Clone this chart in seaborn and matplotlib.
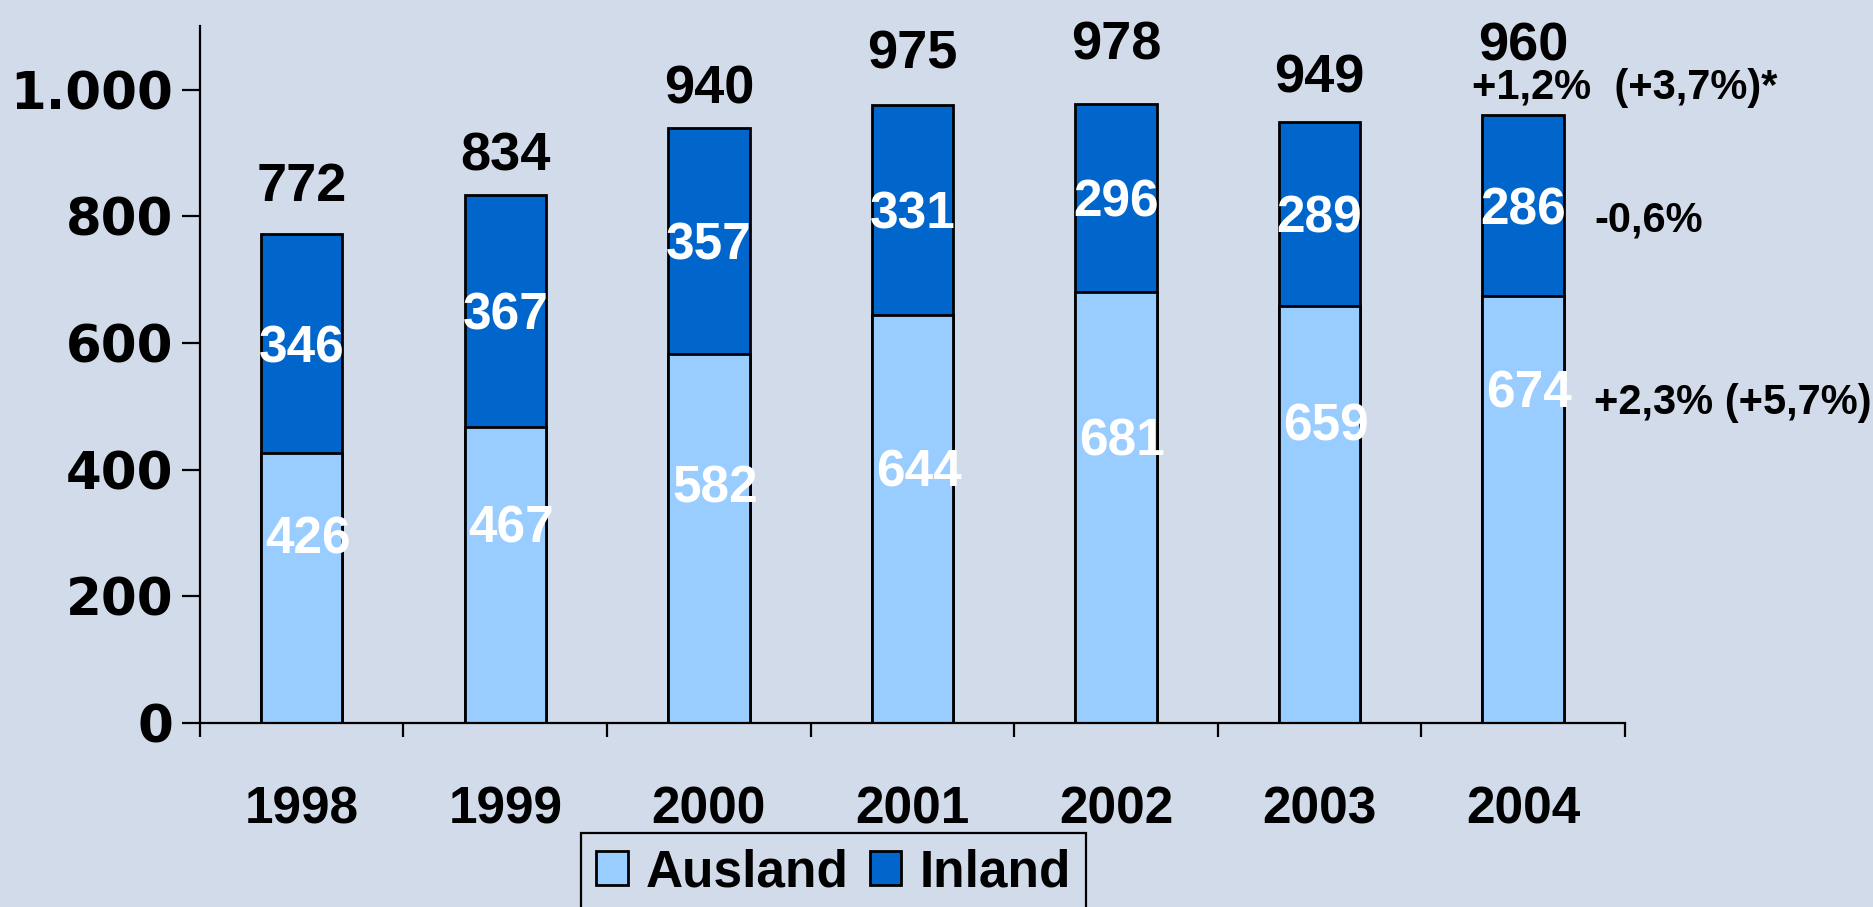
import numpy as np
import pandas as pd
import seaborn as sns
import matplotlib.pyplot as plt
from matplotlib.patches import Patch

# Data
years = ['1998', '1999', '2000', '2001', '2002', '2003', '2004']
ausland = [426, 467, 582, 644, 681, 659, 674]
inland = [346, 367, 357, 331, 296, 289, 286]
totals = [772, 834, 940, 975, 978, 949, 960]

# label placement as in the original slide (Ausland labels are not centred)
ausland_label_y = [289, 306, 369, 395, 444, 467, 520]
total_label_gap = [74, 60, 60, 81, 91, 69, 108]

bg = '#D2DBE9'
col_ausland = '#99CCFF'
col_inland = '#0066CC'

df = pd.DataFrame({'year': years, 'Ausland': ausland, 'Inland': inland, 'total': totals})

plt.rcParams['font.family'] = ['Liberation Sans', 'DejaVu Sans']
plt.rcParams['font.weight'] = 'bold'

fig = plt.figure(figsize=(18.74, 9.07), dpi=100, facecolor=bg)
ax = fig.add_axes([0.1067, 0.203, 0.867 - 0.1067, 0.971 - 0.203])
ax.set_facecolor(bg)

# stacked bars: full total in dark blue, Ausland part drawn over it
sns.barplot(data=df, x='year', y='total', color=col_inland, width=0.4, saturation=1,
            edgecolor='black', linewidth=2, errorbar=None, ax=ax)
sns.barplot(data=df, x='year', y='Ausland', color=col_ausland, width=0.4, saturation=1,
            edgecolor='black', linewidth=2, errorbar=None, ax=ax)

ax.set_xlim(-0.5, 6.5)
ax.set_ylim(0, 1100)
ax.set_xlabel('')
ax.set_ylabel('')

for s in ['top', 'right']:
    ax.spines[s].set_visible(False)
for s in ['left', 'bottom']:
    ax.spines[s].set_linewidth(1.6)
    ax.spines[s].set_color('black')

ax.set_yticks(range(0, 1001, 200))
ax.set_yticklabels([f'{v:,}'.replace(',', '.') for v in range(0, 1001, 200)],
                   fontfamily='DejaVu Sans', fontweight='bold', fontsize=37)
ax.tick_params(axis='y', length=13, width=1.6, pad=6)

ax.set_xticks(range(len(years)))
ax.set_xticklabels(years, fontfamily=['Liberation Sans Narrow', 'Liberation Sans'],
                   fontweight='bold', fontsize=37)
ax.tick_params(axis='x', which='major', length=0, pad=45)
ax.set_xticks(np.arange(-0.5, len(years), 1), minor=True)
ax.tick_params(axis='x', which='minor', length=10, width=1.6)

# value labels
for i in range(len(years)):
    ax.text(i, totals[i] + total_label_gap[i], str(totals[i]), ha='center', va='center',
            fontsize=39, fontweight='bold', color='black')
    ax.text(i, (ausland[i] + totals[i]) / 2 - 8, str(inland[i]), ha='center', va='center',
            fontsize=37, fontweight='bold', color='white')
    ax.text(i + 0.03, ausland_label_y[i], str(ausland[i]), ha='center', va='center',
            fontsize=37, fontweight='bold', color='white')

# growth notes for 2004
ax.text(6.5, 1003, '+1,2%  (+3,7%)*', ha='center', va='center', fontsize=30,
        fontweight='bold', clip_on=False)
ax.text(6.35, 794, '-0,6%', ha='left', va='center', fontsize=30,
        fontweight='bold', clip_on=False)
ax.text(6.35, 505, '+2,3% (+5,7%)', ha='left', va='center', fontsize=30,
        fontweight='bold', clip_on=False)

handles = [Patch(facecolor=col_ausland, edgecolor='black', linewidth=2),
           Patch(facecolor=col_inland, edgecolor='black', linewidth=2)]
leg = fig.legend(handles, ['Ausland', 'Inland'], loc='upper left',
                 bbox_to_anchor=(0.31, 0.082), ncol=2, frameon=True, fancybox=False,
                 facecolor=bg, edgecolor='black', framealpha=1,
                 prop={'weight': 'bold', 'size': 37, 'family': 'Liberation Sans'},
                 handlelength=0.62, handleheight=0.62, handletextpad=0.35,
                 columnspacing=0.4, borderpad=0.3, borderaxespad=0)
leg.get_frame().set_linewidth(1.6)

fig.savefig('out.png', dpi=100, facecolor=bg)
